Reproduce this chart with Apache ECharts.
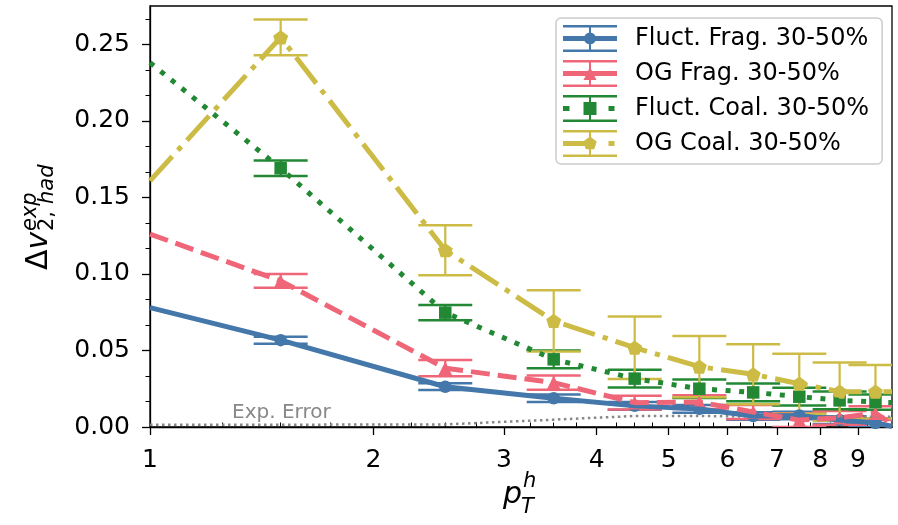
<!DOCTYPE html>
<html>
<head>
<meta charset="utf-8">
<title>dv2 had</title>
<script src="https://cdn.jsdelivr.net/npm/echarts@6.0.0/dist/echarts.min.js"></script>
<style>
  html, body { margin: 0; padding: 0; background: #fff; }
  #chart { width: 898px; height: 525px; }
</style>
</head>
<body>
<div id="chart"></div>
<script>
// bin centres (p_T^h) and where the curves enter / leave the frame
const xCenters = [1.5, 2.5, 3.5, 4.5, 5.5, 6.5, 7.5, 8.5, 9.5];
const edgeX = [1, 10];

const fluctFragY = [0.0567, 0.0263, 0.0188, 0.0138, 0.0118, 0.0072, 0.0075, 0.0045, 0.0026];
const fluctFragErr = [0.0023, 0.0022, 0.0025, 0.0025, 0.0025, 0.0025, 0.0025, 0.0025, 0.0025];
const fluctFragEdge = [0.078, 0.0005];

const ogFragY = [0.0954, 0.0384, 0.029, 0.0159, 0.0163, 0.0098, 0.0045, 0.006, 0.009];
const ogFragErr = [0.0045, 0.0053, 0.0047, 0.0045, 0.0045, 0.0045, 0.0045, 0.0045, 0.0045];
const ogFragEdge = [0.126, 0.002];

const fluctCoalY = [0.169, 0.0747, 0.0442, 0.0316, 0.025, 0.0226, 0.0198, 0.0174, 0.0163];
const fluctCoalErr = [0.005, 0.005, 0.0058, 0.0058, 0.006, 0.0058, 0.0058, 0.0058, 0.005];
const fluctCoalEdge = [0.238, 0.016];

const ogCoalY = [0.2545, 0.1155, 0.0693, 0.0518, 0.0394, 0.0344, 0.0283, 0.0231, 0.0231];
const ogCoalErr = [0.0117, 0.0163, 0.02, 0.0204, 0.02, 0.0196, 0.0196, 0.019, 0.0174];
const ogCoalEdge = [0.1608, 0.023];

const expErrX = [1, 1.5, 2.5, 3.5, 4.5, 5.5, 6.5, 7.5, 8.5, 9.5, 10];
const expErrY = [0.0015, 0.0015, 0.0017, 0.0048, 0.0072, 0.0072, 0.0068, 0.0067, 0.0067, 0.0067, 0.0067];

const xMajorTicks = [1, 2, 3, 4, 5, 6, 7, 8, 9];
const xMinorTicks = [1.25, 1.5, 1.75, 2.25, 2.5, 2.75, 3.25, 3.5, 3.75, 4.25, 4.5, 4.75,
  5.25, 5.5, 5.75, 6.25, 6.5, 6.75, 7.25, 7.5, 7.75, 8.25, 8.5, 8.75, 9.25, 9.5, 9.75];
const yMajorTicks = [0, 0.05, 0.1, 0.15, 0.2, 0.25];
const yMinorTicks = [0.05 / 3, 0.1 / 3, 0.2 / 3, 0.25 / 3, 0.35 / 3, 0.4 / 3, 0.5 / 3, 0.55 / 3,
  0.65 / 3, 0.7 / 3, 0.8 / 3];

const FONT = 'DejaVu Sans';

const seriesDefs = [
  { name: 'Fluct. Frag. 30-50%', color: '#4477AA', y: fluctFragY, err: fluctFragErr, edge: fluctFragEdge,
    dash: 'solid', symbol: 'circle', size: 12.5 },
  { name: 'OG Frag. 30-50%', color: '#EE6677', y: ogFragY, err: ogFragErr, edge: ogFragEdge,
    dash: [19, 8], symbol: 'triangle', size: 13.5 },
  { name: 'Fluct. Coal. 30-50%', color: '#228833', y: fluctCoalY, err: fluctCoalErr, edge: fluctCoalEdge,
    dash: [5, 8.6], symbol: 'rect', size: 12.5 },
  { name: 'OG Coal. 30-50%', color: '#CCBB44', y: ogCoalY, err: ogCoalErr, edge: ogCoalEdge,
    dash: [33, 8.3, 5.2, 8.3], symbol: 'path://M0 -1L0.951 -0.309L0.588 0.809L-0.588 0.809L-0.951 -0.309Z', size: 15 },
];

// legend handle pieces (54 x 27 box)
function rect(x0, y0, x1, y1) {
  return 'M' + x0 + ' ' + y0 + 'L' + x1 + ' ' + y0 + 'L' + x1 + ' ' + y1 + 'L' + x0 + ' ' + y1 + 'Z';
}
const errBarPath = rect(0, 0, 54, 2.5) + rect(0, 24.5, 54, 27) + rect(26, 0, 28, 27);
const legendIcons = [
  'path://' + errBarPath + rect(0, 11, 54, 16) + 'M21 13.5A6 6 0 1 1 33 13.5A6 6 0 1 1 21 13.5Z',
  'path://' + errBarPath + rect(0, 11, 54, 16) + 'M27 7L33.5 20L20.5 20Z',
  'path://' + errBarPath + rect(0, 11, 6.5, 16) + rect(45.5, 11, 51.5, 16) + rect(20.5, 7, 33.5, 20),
  'path://' + errBarPath + rect(0, 11, 32.5, 16) + rect(45.5, 11, 51.5, 16) +
    'M27 6.5L33.7 11.4L31.2 19.3L22.8 19.3L20.3 11.4Z',
];

function curveData(def) {
  const pts = [[edgeX[0], def.edge[0]]];
  xCenters.forEach((x, i) => pts.push([x, def.y[i]]));
  pts.push([edgeX[1], def.edge[1]]);
  return pts;
}

function renderErrBar(color) {
  return function (params, api) {
    const x = api.value(0);
    const y = api.value(1);
    const e = api.value(2);
    const lo = api.coord([x, y - e]);
    const hi = api.coord([x, y + e]);
    const style = { stroke: color, lineWidth: 2.5 };
    return {
      type: 'group',
      children: [
        { type: 'line', shape: { x1: lo[0], y1: lo[1], x2: hi[0], y2: hi[1] }, style: { stroke: color, lineWidth: 2.2 } },
        { type: 'line', shape: { x1: lo[0] - 27, y1: lo[1], x2: lo[0] + 27, y2: lo[1] }, style: style },
        { type: 'line', shape: { x1: hi[0] - 27, y1: hi[1], x2: hi[0] + 27, y2: hi[1] }, style: style },
      ],
    };
  };
}

const series = [{
  name: 'Exp. Error',
  type: 'line',
  data: expErrX.map((x, i) => [x, expErrY[i]]),
  showSymbol: false,
  lineStyle: { color: '#888888', width: 2.5, type: [2.5, 3.5] },
  silent: true,
}];

seriesDefs.forEach(def => {
  series.push({
    name: def.name + ' curve',
    type: 'line',
    data: curveData(def),
    showSymbol: false,
    clip: true,
    lineStyle: { color: def.color, width: 5, type: def.dash },
  });
  series.push({
    name: def.name + ' err',
    type: 'custom',
    clip: true,
    renderItem: renderErrBar(def.color),
    encode: { x: 0, y: 1 },
    data: xCenters.map((x, i) => [x, def.y[i], def.err[i]]),
  });
  series.push({
    name: def.name,
    type: 'scatter',
    symbol: def.symbol,
    symbolSize: def.size,
    symbolKeepAspect: true,
    itemStyle: { color: def.color, opacity: 1 },
    data: xCenters.map((x, i) => [x, def.y[i]]),
  });
});

const chart = echarts.init(document.getElementById('chart'));
chart.setOption({
  animation: false,
  backgroundColor: '#fff',
  grid: {
    left: 150, right: 6, top: 6, bottom: 98,
    show: true, borderColor: '#000', borderWidth: 1.3, backgroundColor: 'transparent',
  },
  legend: {
    orient: 'vertical',
    left: 556,
    top: 18,
    padding: [7, 13, 7, 7],
    itemWidth: 54,
    itemHeight: 27,
    itemGap: 8,
    backgroundColor: 'rgba(255,255,255,0.8)',
    borderColor: '#cccccc',
    borderWidth: 1.5,
    borderRadius: 5,
    selectedMode: false,
    textStyle: { fontFamily: FONT, fontSize: 24, color: '#000', padding: [0, 0, 0, 13] },
    data: seriesDefs.map((def, i) => ({
      name: def.name,
      icon: legendIcons[i],
      itemStyle: { color: def.color, borderWidth: 0 },
    })),
  },
  xAxis: [{
    type: 'log',
    logBase: 10,
    min: 1,
    max: 10,
    axisLine: { lineStyle: { color: '#000', width: 1.3 } },
    axisTick: { customValues: xMajorTicks, length: 8, lineStyle: { color: '#000', width: 1.3 } },
    axisLabel: { customValues: xMajorTicks, margin: 21, fontFamily: FONT, fontSize: 25, color: '#000' },
    splitLine: { show: false },
  }, {
    type: 'log',
    logBase: 10,
    min: 1,
    max: 10,
    axisLine: { show: false },
    axisTick: { customValues: xMinorTicks, length: 4.5, lineStyle: { color: '#000', width: 1 } },
    axisLabel: { show: false },
    splitLine: { show: false },
  }],
  yAxis: [{
    type: 'value',
    min: 0,
    max: 0.275,
    axisLine: { show: true, lineStyle: { color: '#000', width: 1.3 } },
    axisTick: { show: true, customValues: yMajorTicks, length: 8, lineStyle: { color: '#000', width: 1.3 } },
    axisLabel: {
      customValues: yMajorTicks, margin: 20, fontFamily: FONT, fontSize: 25, color: '#000',
      formatter: v => v.toFixed(2),
    },
    splitLine: { show: false },
  }, {
    type: 'value',
    position: 'left',
    min: 0,
    max: 0.275,
    axisLine: { show: false },
    axisTick: { show: true, customValues: yMinorTicks, length: 4.5, lineStyle: { color: '#000', width: 1 } },
    axisLabel: { show: false },
    splitLine: { show: false },
  }],
  graphic: [
    {
      type: 'text', left: 232, top: 403, silent: true,
      style: { text: 'Exp. Error', fill: '#888888', font: '20px "DejaVu Sans"' },
    },
    {
      // y axis title, written horizontally then turned
      type: 'group', x: 48, y: 270, rotation: Math.PI / 2, silent: true,
      children: [
        { type: 'text', x: 0, y: -9, style: { text: 'Δ', font: '30px "DejaVu Sans"', fill: '#000', verticalAlign: 'middle' } },
        { type: 'text', x: 20.5, y: -9, style: { text: 'v', font: 'italic 30px "DejaVu Sans"', fill: '#000', verticalAlign: 'middle' } },
        { type: 'text', x: 39, y: -17, style: { text: 'exp', font: 'italic 21px "DejaVu Sans"', fill: '#000', verticalAlign: 'middle' } },
        { type: 'text', x: 39, y: 0, style: { text: '2, ', font: '21px "DejaVu Sans"', fill: '#000', verticalAlign: 'middle' } },
        { type: 'text', x: 66, y: 0, style: { text: 'had', font: 'italic 21px "DejaVu Sans"', fill: '#000', verticalAlign: 'middle' } },
      ],
    },
    {
      type: 'group', x: 503, y: 504, silent: true,
      children: [
        { type: 'text', x: 0, y: -9, style: { text: 'p', font: 'italic 30px "DejaVu Sans"', fill: '#000', verticalAlign: 'middle' } },
        { type: 'text', x: 20, y: -22, style: { text: 'h', font: 'italic 21px "DejaVu Sans"', fill: '#000', verticalAlign: 'middle' } },
        { type: 'text', x: 18, y: 4, style: { text: 'T', font: 'italic 21px "DejaVu Sans"', fill: '#000', verticalAlign: 'middle' } },
      ],
    },
  ],
  series: series,
});
</script>
</body>
</html>
